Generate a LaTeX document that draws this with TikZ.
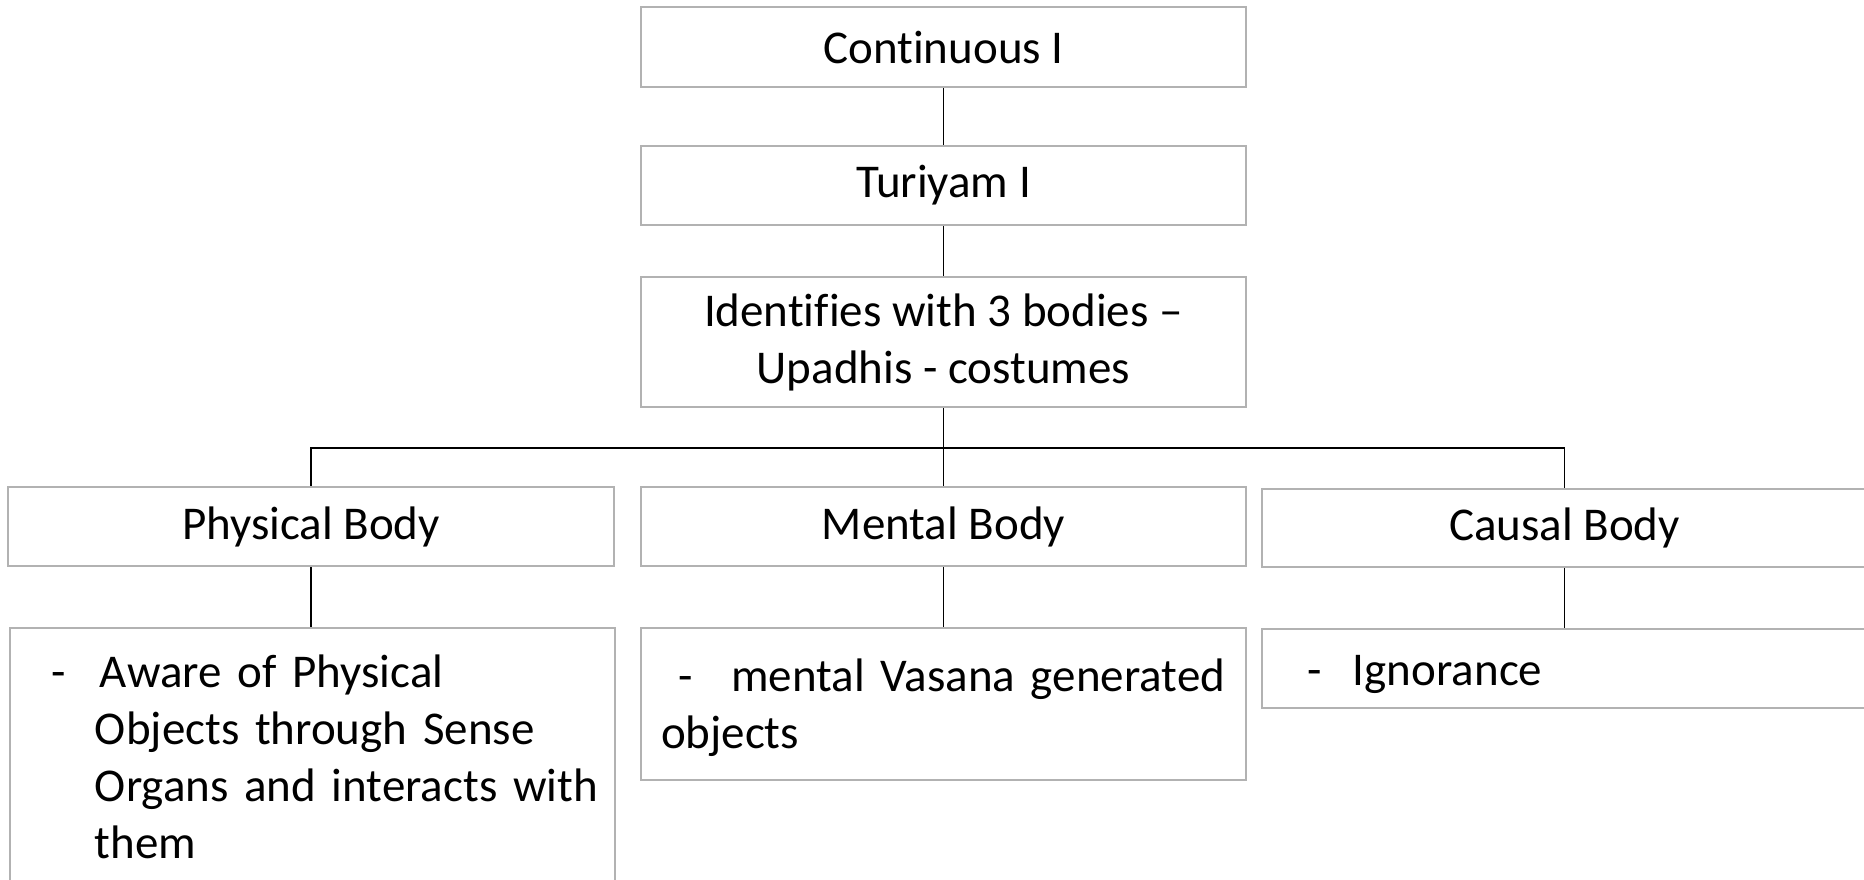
\documentclass[tikz,border=0pt]{standalone}
\usepackage{fontspec}
\setmainfont{Carlito}[Ligatures=NoCommon]
\usepackage{tikz}
\usetikzlibrary{calc}

\definecolor{boxgray}{RGB}{178,178,178}
\newcommand{\chartfont}{\fontsize{23.5pt}{28.5pt}\selectfont}

\tikzset{
    box/.style={draw=boxgray, line width=1pt, minimum width=302.5pt, inner sep=3pt, font=\chartfont, align=center},
    notebox/.style={box, text width=296.5pt, align=left},
    link/.style={draw=black, line width=0.55pt}
}

\begin{document}
\begin{tikzpicture}[x=0.5pt, y=-0.5pt]
    % Fix the canvas (pixel units of the reference)
    \path[use as bounding box, clip] (0,0) rectangle (1864,879);

    % Top chain
    \node[box, minimum height=40pt] (cont) at (943.5,47) {Continuous I};
    \node[box, minimum height=39.5pt] (turi) at (943.5,185.5) {Turiyam I};
    \node[box, minimum height=65pt] (iden) at (943.5,342) {Identifies with 3 bodies –\\Upadhis - costumes};

    % Three bodies
    \node[box, minimum height=39.5pt, minimum width=303pt] (phys) at (311,526.5) {Physical Body};
    \node[box, minimum height=39.5pt] (ment) at (943.5,526.5) {Mental Body};
    \node[box, minimum height=39pt] (caus) at (1564.5,528) {Causal Body};

    % What each body does
    \node[notebox, minimum height=129pt] (physnote) at (312.5,757)
        {\hspace*{17.5pt}-\hspace{17.3pt}Aware of Physical\\
         \hspace*{39.5pt}Objects through Sense\\
         \hspace*{39.5pt}Organs and interacts with\\
         \hspace*{39.5pt}them};
    \node[notebox, minimum height=76pt] (mentnote) at (943.5,704)
        {\rule{0pt}{20.5pt}\hspace*{15.5pt}-\hspace{19.5pt}mental Vasana generated\\
         \hspace*{7pt}objects};
    \node[notebox, minimum height=39.5pt] (causnote) at (1564.5,668.5)
        {\rule{0pt}{21pt}\hspace*{19.5pt}-\hspace{15.8pt}Ignorance};

    % Connectors
    \coordinate (bus) at ($(iden.south)+(0,40)$);
    \draw[link] (cont.south) -- (turi.north);
    \draw[link] (turi.south) -- (iden.north);
    \draw[link] (iden.south) -- (ment.north);
    \draw[link] (bus) -| (phys.north);
    \draw[link] (bus) -| (caus.north);
    \draw[link] (phys.south) -- (phys.south |- physnote.north);
    \draw[link] (ment.south) -- (mentnote.north);
    \draw[link] (caus.south) -- (causnote.north);
\end{tikzpicture}
\end{document}
